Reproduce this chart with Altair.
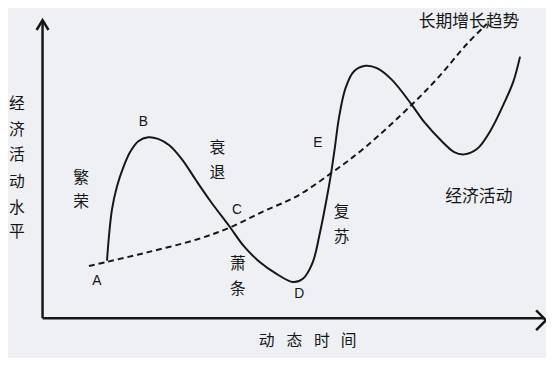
import altair as alt
import pandas as pd

# Coordinates: t = time units from origin, v = activity level units from origin
# Economic activity curve (solid)
curve_t = [65.3, 67, 70.3, 75.3, 82, 88.7, 97, 107, 117, 128.7, 142, 155.3, 170.3, 190.3, 203.7,
           220.3, 237, 253.7, 263.7, 273.7, 280.3, 287, 292, 296, 300.3, 307, 315.3, 327, 338.7,
           353.7, 373.7, 387, 403.7, 417, 427, 440.3, 453.7, 467, 477, 483.7]
curve_v = [58.3, 80, 110, 133.3, 153.3, 168.3, 179.3, 183.3, 181.7, 175, 160, 140, 118.3, 91.7, 73.3,
           56.7, 45, 36.7, 40, 56.7, 83.3, 116.7, 145, 172, 203.3, 233.3, 250, 255.7, 253.3,
           241.7, 216.7, 198.3, 180, 168.3, 166, 171.7, 190, 216.7, 240, 265]

# Long-term growth trend (dashed)
trend_t = [47, 65, 107, 157, 190, 223.7, 257, 292, 327, 373.7, 400.3, 430.3, 450]
trend_v = [53, 57, 67, 80, 92, 108.3, 123.3, 146.7, 173.3, 216, 243.3, 278.3, 298]

# Axes
axis_t = [0, 0]
axis_t2 = [0, 508]
axis_v = [0, 0]
axis_v2 = [302, 0]

# Arrow heads (chevrons)
arrow_id = ["y", "y", "y", "x", "x", "x"]
arrow_t = [-6, 0, 6, 500, 510, 500]
arrow_v = [292, 302, 292, 8, -2, -12]

# Phase labels
lab_text = ["A", "B", "C", "D", "E"]
lab_t = [55, 102, 197, 260, 279]
lab_v = [38, 199, 110, 25, 177]

cn_text = ["繁", "荣", "衰", "退", "萧", "条", "复", "苏"]
cn_t = [39, 39, 177, 177, 198, 198, 303, 303]
cn_v = [142, 118, 172, 147, 55, 30, 108, 82]

ylab_text = ["经", "济", "活", "动", "水", "平"]
ylab_t = [-26, -26, -26, -26, -26, -26]
ylab_v = [217, 191, 165, 138, 112, 87]

xlab_text = ["动", "态", "时", "间"]
xlab_t = [227, 255, 283, 310]
xlab_v = [-23, -23, -23, -23]

note_text = ["经济活动", "长期增长趋势"]
note_t = [442, 432]
note_v = [123, 300]

XD = [-35, 510]
YD = [-38, 312]
xs = alt.Scale(domain=XD, nice=False, zero=False)
ys = alt.Scale(domain=YD, nice=False, zero=False)
FONT_CN = "Noto Sans CJK SC"
INK = "#161616"

curve_df = pd.DataFrame({"t": curve_t, "v": curve_v})
trend_df = pd.DataFrame({"t": trend_t, "v": trend_v})
axis_df = pd.DataFrame({"t": axis_t, "t2": axis_t2, "v": axis_v, "v2": axis_v2})
arrow_df = pd.DataFrame({"id": arrow_id, "t": arrow_t, "v": arrow_v, "o": list(range(len(arrow_t)))})
lab_df = pd.DataFrame({"s": lab_text, "t": lab_t, "v": lab_v})
cn_df = pd.DataFrame({"s": cn_text + ylab_text + xlab_text,
                      "t": cn_t + ylab_t + xlab_t,
                      "v": cn_v + ylab_v + xlab_v})
note_df = pd.DataFrame({"s": note_text, "t": note_t, "v": note_v})

X = lambda f="t": alt.X(f"{f}:Q", scale=xs, axis=None)
Y = lambda f="v": alt.Y(f"{f}:Q", scale=ys, axis=None)

curve = alt.Chart(curve_df).mark_line(color=INK, strokeWidth=2, interpolate="catmull-rom").encode(
    x=X(), y=Y(), order="t:Q")
trend = alt.Chart(trend_df).mark_line(color=INK, strokeWidth=2, strokeDash=[6, 4],
                                       interpolate="catmull-rom").encode(x=X(), y=Y(), order="t:Q")
axes = alt.Chart(axis_df).mark_rule(color=INK, strokeWidth=2.5).encode(
    x=X(), x2="t2:Q", y=Y(), y2="v2:Q")
arrows = alt.Chart(arrow_df).mark_line(color=INK, strokeWidth=2.5).encode(
    x=X(), y=Y(), detail="id:N", order="o:Q")
labs = alt.Chart(lab_df).mark_text(font="Liberation Sans", fontSize=14, color=INK).encode(
    x=X(), y=Y(), text="s:N")
cns = alt.Chart(cn_df).mark_text(font=FONT_CN, fontSize=16, color=INK).encode(
    x=X(), y=Y(), text="s:N")
notes = alt.Chart(note_df).mark_text(font=FONT_CN, fontSize=17, color=INK).encode(
    x=X(), y=Y(), text="s:N")

chart = alt.layer(axes, arrows, trend, curve, labs, cns, notes).properties(
    width=545, height=350, autosize=alt.AutoSizeParams(type="none"), padding=0,
    background="#eef0f4"
).configure_view(stroke=None)

chart.save("out.html", embed_options={"renderer": "svg", "actions": False})
